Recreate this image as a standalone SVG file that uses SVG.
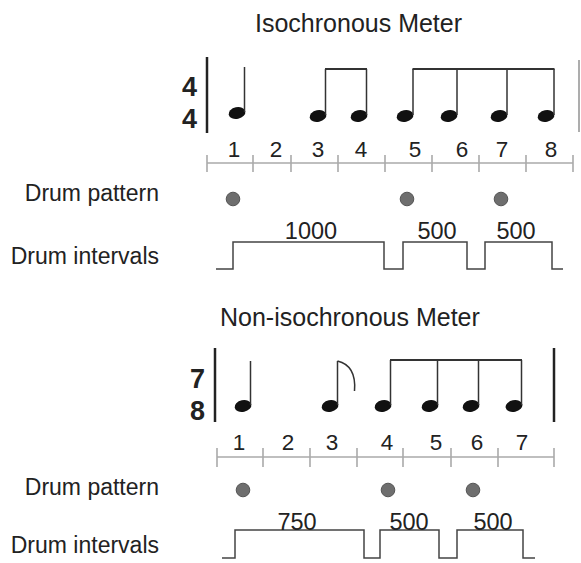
<svg xmlns="http://www.w3.org/2000/svg" xmlns:xlink="http://www.w3.org/1999/xlink" width="581" height="563" viewBox="0 0 581 563">
<style>
text{font-family:"Liberation Sans",Arial,sans-serif;fill:#222}
.title{font-size:25px}
.lab{font-size:23px;text-anchor:end}
.num{font-size:22.5px;text-anchor:middle}
.iv{font-size:23.5px;text-anchor:middle}
.ts{font-size:27px;font-weight:bold;text-anchor:end}
.bar{stroke:#222;stroke-width:2.5;fill:none}
.stem{stroke:#333;stroke-width:1.5;fill:none}
.beam{stroke:#333;stroke-width:2.2;fill:none}
.ruler{stroke:#aaa;stroke-width:1.6;fill:none}
.ivl{stroke:#444;stroke-width:1.5;fill:none}
.dot{fill:#6e6e6e;stroke:#555;stroke-width:1}
</style>
<defs>
<ellipse id="head" cx="0" cy="0" rx="8.5" ry="5.8" transform="rotate(-12)" fill="#111"/>
</defs>
<rect width="581" height="563" fill="#fff"/>

<g id="iso">
<text class="title" x="255" y="32">Isochronous Meter</text>
<g id="iso-timesig">
<text class="ts" x="197" y="96">4</text>
<text class="ts" x="197" y="128">4</text>
<line class="bar" x1="207" y1="57" x2="207" y2="133"/>
<line x1="579" y1="60" x2="579" y2="132" stroke="#999" stroke-width="1.6"/>
</g>
<g id="iso-notes">
<use xlink:href="#head" x="237" y="113"/>
<line class="stem" x1="244.5" y1="67" x2="244.5" y2="112"/>
<use xlink:href="#head" x="318" y="116"/>
<use xlink:href="#head" x="359" y="116"/>
<line class="stem" x1="325.5" y1="69" x2="325.5" y2="115"/>
<line class="stem" x1="366.5" y1="69" x2="366.5" y2="115"/>
<line class="beam" x1="325" y1="69" x2="367" y2="69"/>
<use xlink:href="#head" x="405" y="116"/>
<use xlink:href="#head" x="449" y="116"/>
<use xlink:href="#head" x="499" y="116"/>
<use xlink:href="#head" x="546" y="116"/>
<line class="stem" x1="413" y1="69" x2="413" y2="115"/>
<line class="stem" x1="457" y1="69" x2="457" y2="115"/>
<line class="stem" x1="507" y1="69" x2="507" y2="115"/>
<line class="stem" x1="554" y1="69" x2="554" y2="115"/>
<line class="beam" x1="412.5" y1="69" x2="554.5" y2="69"/>
</g>
<g id="iso-ruler">
<text class="num" x="234" y="157">1</text>
<text class="num" x="276" y="157">2</text>
<text class="num" x="318" y="157">3</text>
<text class="num" x="361" y="157">4</text>
<text class="num" x="415" y="157">5</text>
<text class="num" x="462" y="157">6</text>
<text class="num" x="502" y="157">7</text>
<text class="num" x="551" y="157">8</text>
<path class="ruler" d="M207,163H573M207,155V172M253,155V172M291,155V172M338,155V172M385,155V172M432,155V172M479,155V172M526,155V172M573,155V172"/>
</g>
<g id="iso-pattern">
<text class="lab" x="159" y="201">Drum pattern</text>
<circle class="dot" cx="233" cy="199" r="6.8"/>
<circle class="dot" cx="407" cy="199" r="6.8"/>
<circle class="dot" cx="501" cy="199" r="6.8"/>
</g>
<g id="iso-intervals">
<text class="lab" x="159" y="264">Drum intervals</text>
<path class="ivl" d="M216,269H233V242H384V269H403V242H467V269H485V242H552V269H563"/>
<text class="iv" x="311" y="239">1000</text>
<text class="iv" x="437" y="239">500</text>
<text class="iv" x="516" y="239">500</text>
</g>
</g>

<g id="noniso">
<text class="title" x="220" y="326">Non-isochronous Meter</text>
<g id="noniso-timesig">
<text class="ts" x="205" y="388">7</text>
<text class="ts" x="205" y="420">8</text>
<line class="bar" x1="215" y1="348" x2="215" y2="422"/>
<line class="bar" x1="554" y1="348" x2="554" y2="422"/>
</g>
<g id="noniso-notes">
<use xlink:href="#head" x="243" y="406"/>
<line class="stem" x1="250.5" y1="361" x2="250.5" y2="405"/>
<use xlink:href="#head" x="330" y="406"/>
<line class="stem" x1="337.5" y1="361" x2="337.5" y2="405"/>
<path class="stem" d="M337.5,361C350,364 356,373 354.5,391"/>
<use xlink:href="#head" x="383" y="406"/>
<use xlink:href="#head" x="430" y="406"/>
<use xlink:href="#head" x="471" y="406"/>
<use xlink:href="#head" x="514" y="406"/>
<line class="stem" x1="390.5" y1="360" x2="390.5" y2="405"/>
<line class="stem" x1="437.5" y1="360" x2="437.5" y2="405"/>
<line class="stem" x1="478.5" y1="360" x2="478.5" y2="405"/>
<line class="stem" x1="521.5" y1="360" x2="521.5" y2="405"/>
<line class="beam" x1="390" y1="360" x2="522" y2="360"/>
</g>
<g id="noniso-ruler">
<text class="num" x="239" y="450">1</text>
<text class="num" x="288" y="450">2</text>
<text class="num" x="332" y="450">3</text>
<text class="num" x="387" y="450">4</text>
<text class="num" x="436" y="450">5</text>
<text class="num" x="477" y="450">6</text>
<text class="num" x="522" y="450">7</text>
<path class="ruler" d="M217,457H554M217,448V467M263,448V467M310,448V467M357,448V467M403,448V467M451,448V467M498,448V467M554,448V467"/>
</g>
<g id="noniso-pattern">
<text class="lab" x="159" y="495">Drum pattern</text>
<circle class="dot" cx="243" cy="490" r="6.8"/>
<circle class="dot" cx="388" cy="490" r="6.8"/>
<circle class="dot" cx="473" cy="490" r="6.8"/>
</g>
<g id="noniso-intervals">
<text class="lab" x="159" y="553">Drum intervals</text>
<path class="ivl" d="M222,558H235V530H364V558H380V530H439V558H457V530H523V558H535"/>
<text class="iv" x="297" y="530">750</text>
<text class="iv" x="409" y="530">500</text>
<text class="iv" x="493" y="530">500</text>
</g>
</g>
</svg>
